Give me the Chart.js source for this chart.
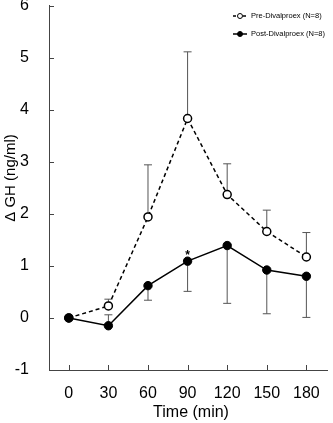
<!DOCTYPE html>
<html>
<head>
<meta charset="utf-8">
<script src="https://cdn.jsdelivr.net/npm/chart.js@4"></script>
<style>
    html, body { margin: 0; padding: 0; background: #fff; }
</style>
</head>
<body>
<canvas id="ghChart" width="333" height="423"></canvas>
<script>
// Sampling times (min)
const timePoints = [0, 30, 60, 90, 120, 150, 180];

// Mean change in GH (ng/ml)
const preMean  = [0, 0.23, 1.94, 3.83, 2.37, 1.66, 1.17];
const postMean = [0, -0.15, 0.62, 1.09, 1.39, 0.92, 0.80];

// Where each one-sided error bar ends
const preErrEnd  = [null, 0.36, 2.94, 5.11, 2.96, 2.07, 1.64];
const postErrEnd = [null, 0.06, 0.34, 0.51, 0.28, 0.08, 0.01];

// Axis ticks
const yTicks = [-1, 0, 1, 2, 3, 4, 5, 6];

const FONT = '"Liberation Sans", Arial, Helvetica, sans-serif';
const AXIS_COLOR = '#444';

// Draw one-sided error bars with a cap
function drawErrorBars(ctx, xs, ys, means, ends) {
    means.forEach((m, i) => {
        if (ends[i] === null) return;
        const px = xs.getPixelForValue(timePoints[i]);
        const y0 = ys.getPixelForValue(m);
        const y1 = ys.getPixelForValue(ends[i]);
        ctx.beginPath();
        ctx.moveTo(px, y0);
        ctx.lineTo(px, y1);
        ctx.moveTo(px - 4, y1);
        ctx.lineTo(px + 4, y1);
        ctx.stroke();
    });
}

// Legend entry: short line with a small marker, then the label
function drawLegendItem(ctx, y, dashed, filled, label) {
    ctx.save();
    ctx.strokeStyle = '#000';
    ctx.lineWidth = 1.5;
    ctx.setLineDash(dashed ? [3, 2] : []);
    ctx.beginPath();
    ctx.moveTo(233, y);
    ctx.lineTo(247, y);
    ctx.stroke();
    ctx.setLineDash([]);
    ctx.beginPath();
    ctx.arc(240, y, 2.5, 0, Math.PI * 2);
    ctx.fillStyle = filled ? '#000' : '#fff';
    ctx.fill();
    ctx.lineWidth = 1;
    ctx.stroke();
    ctx.fillStyle = '#000';
    ctx.font = '7.5px ' + FONT;
    ctx.textAlign = 'left';
    ctx.textBaseline = 'middle';
    ctx.fillText(label, 251, y);
    ctx.restore();
}

const extrasPlugin = {
    id: 'extras',
    beforeDatasetsDraw(chart) {
        const ctx = chart.ctx;
        const xs = chart.scales.x;
        const ys = chart.scales.y;
        const area = chart.chartArea;
        ctx.save();
        // error bars sit under the markers
        ctx.strokeStyle = '#555';
        ctx.lineWidth = 1;
        drawErrorBars(ctx, xs, ys, preMean, preErrEnd);
        drawErrorBars(ctx, xs, ys, postMean, postErrEnd);

        // inward tick marks
        ctx.strokeStyle = AXIS_COLOR;
        ctx.beginPath();
        yTicks.forEach(v => {
            const py = Math.round(ys.getPixelForValue(v)) + 0.5;
            ctx.moveTo(area.left, py);
            ctx.lineTo(area.left + 5, py);
        });
        timePoints.forEach(t => {
            const px = Math.round(xs.getPixelForValue(t)) + 0.5;
            ctx.moveTo(px, area.bottom);
            ctx.lineTo(px, area.bottom - 5);
        });
        ctx.stroke();
        ctx.restore();
    },
    afterDraw(chart) {
        const ctx = chart.ctx;
        const xs = chart.scales.x;
        const ys = chart.scales.y;
        ctx.save();
        ctx.fillStyle = '#000';

        // axis titles
        ctx.font = '16px ' + FONT;
        ctx.textAlign = 'center';
        ctx.textBaseline = 'alphabetic';
        ctx.fillText('Time (min)', 191, 417);

        ctx.save();
        ctx.translate(15, 178);
        ctx.rotate(-Math.PI / 2);
        ctx.font = '15px ' + FONT;
        ctx.fillText('\u0394 GH (ng/ml)', 0, 0);
        ctx.restore();

        // significance mark at 90 min
        ctx.font = 'bold 12px ' + FONT;
        ctx.fillText('*', xs.getPixelForValue(90), ys.getPixelForValue(postMean[3]) - 2);

        // legend
        drawLegendItem(ctx, 16, true, false, 'Pre-Divalproex (N=8)');
        drawLegendItem(ctx, 34, false, true, 'Post-Divalproex (N=8)');
        ctx.restore();
    }
};

function initializeGhChart() {
    const ctx = document.getElementById('ghChart');
    if (!ctx) return;

    new Chart(ctx, {
        type: 'line',
        data: {
            datasets: [{
                label: 'Pre-Divalproex (N=8)',
                data: timePoints.map((t, i) => ({ x: t, y: preMean[i] })),
                borderColor: '#000',
                borderWidth: 1.5,
                borderDash: [4, 3],
                pointRadius: 4,
                pointBorderWidth: 1.5,
                pointBackgroundColor: '#fff',
                pointBorderColor: '#000',
                tension: 0,
                order: 1
            }, {
                label: 'Post-Divalproex (N=8)',
                data: timePoints.map((t, i) => ({ x: t, y: postMean[i] })),
                borderColor: '#000',
                borderWidth: 1.5,
                pointRadius: 4.2,
                pointBorderWidth: 1,
                pointBackgroundColor: '#000',
                pointBorderColor: '#000',
                tension: 0,
                order: 0
            }]
        },
        options: {
            responsive: false,
            animation: false,
            layout: { padding: { top: 4, left: 0, right: 0, bottom: 0 } },
            plugins: {
                legend: { display: false },
                tooltip: { enabled: false }
            },
            scales: {
                x: {
                    type: 'linear',
                    min: -15,
                    max: 196,
                    afterBuildTicks: scale => {
                        scale.ticks = timePoints.map(v => ({ value: v }));
                    },
                    afterFit: scale => {
                        scale.height = 53;
                        scale.paddingLeft = 0;
                        scale.paddingRight = 0;
                    },
                    grid: { display: false },
                    border: { display: true, color: AXIS_COLOR, width: 1 },
                    ticks: {
                        padding: 6,
                        maxRotation: 0,
                        color: '#000',
                        font: { family: FONT, size: 16 }
                    }
                },
                y: {
                    min: -1,
                    max: 6,
                    afterBuildTicks: scale => {
                        scale.ticks = yTicks.map(v => ({ value: v }));
                    },
                    afterFit: scale => {
                        scale.width = 49;
                        scale.paddingTop = 0;
                        scale.paddingBottom = 0;
                    },
                    grid: { display: false },
                    border: { display: true, color: AXIS_COLOR, width: 1 },
                    ticks: {
                        padding: 12,
                        color: '#000',
                        font: { family: FONT, size: 16 }
                    }
                }
            }
        },
        plugins: [extrasPlugin]
    });
}

document.addEventListener('DOMContentLoaded', initializeGhChart);
</script>
</body>
</html>
